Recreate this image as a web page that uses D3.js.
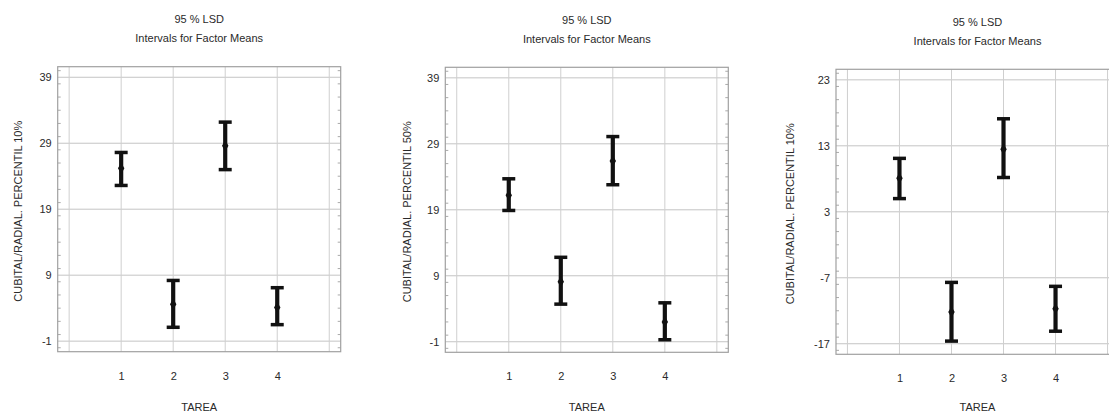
<!DOCTYPE html>
<html>
<head>
<meta charset="utf-8">
<script src="https://cdn.jsdelivr.net/npm/d3@7/dist/d3.min.js"></script>
<style>
  html, body { margin: 0; padding: 0; background: #fff; }
  svg { display: block; }
  text { font-family: "Liberation Sans", Arial, sans-serif; fill: #2a2a2a; }
</style>
</head>
<body>
<svg id="chart" width="1109" height="414"></svg>
<script>
// ---------- data ----------
const categories = ["1", "2", "3", "4"];
const titleLine1 = "95 % LSD";
const titleLine2 = "Intervals for Factor Means";
const xAxisTitle = "TAREA";
const yAxisTitles = [
  "CUBITAL/RADIAL. PERCENTIL 10%",
  "CUBITAL/RADIAL. PERCENTIL 50%",
  "CUBITAL/RADIAL. PERCENTIL 10%"
];

const yTicks1 = [-1, 9, 19, 29, 39];
const means1 = [25.2, 4.6, 28.6, 4.1];
const lower1 = [22.6, 1.1, 25.0, 1.5];
const upper1 = [27.6, 8.2, 32.2, 7.1];

const yTicks2 = [-1, 9, 19, 29, 39];
const means2 = [21.2, 8.1, 26.4, 2.0];
const lower2 = [18.9, 4.7, 22.8, -0.7];
const upper2 = [23.7, 11.8, 30.1, 4.9];

const yTicks3 = [-17, -7, 3, 13, 23];
const means3 = [8.1, -12.2, 12.5, -11.7];
const lower3 = [5.0, -16.6, 8.2, -15.1];
const upper3 = [11.1, -7.7, 17.1, -8.3];

const panelsData = [
  { yTitle: yAxisTitles[0], ticks: yTicks1, means: means1, lower: lower1, upper: upper1 },
  { yTitle: yAxisTitles[1], ticks: yTicks2, means: means2, lower: lower2, upper: upper2 },
  { yTitle: yAxisTitles[2], ticks: yTicks3, means: means3, lower: lower3, upper: upper3 }
];

// ---------- layout ----------
const layout = [
  { left: 57.7, top: 66.7, yLabelOff: 39.5 },
  { left: 445.3, top: 67.3, yLabelOff: 38.6 },
  { left: 836, top: 69.3, yLabelOff: 46 }
];
const boxW = 283, boxH = 285;
const FONT = "'Liberation Sans', Arial, sans-serif";

const svg = d3.select("#chart");

panelsData.forEach((p, i) => {
  const L = layout[i];
  const g = svg.append("g").attr("transform", `translate(${L.left},${L.top})`);

  const tMin = d3.min(p.ticks), tMax = d3.max(p.ticks);
  const pad = (tMax - tMin) * 0.04;
  const y = d3.scaleLinear().domain([tMin - pad, tMax + pad]).range([boxH, 0]);
  const x = d3.scaleLinear().domain([-0.22, 5.22]).range([0, boxW]);

  // gridlines: horizontal at ticks
  g.append("g").selectAll("line").data(p.ticks).join("line")
    .attr("x1", 0).attr("x2", boxW)
    .attr("y1", d => y(d)).attr("y2", d => y(d))
    .attr("stroke", "#c4c4c4").attr("stroke-width", 1);
  // vertical grid at 0..5
  g.append("g").selectAll("line").data(d3.range(0, 6)).join("line")
    .attr("x1", d => x(d)).attr("x2", d => x(d))
    .attr("y1", 0).attr("y2", boxH)
    .attr("stroke", "#cfcfcf").attr("stroke-width", 1);

  // minor ticks on left/right edges
  const minor = d3.range(Math.ceil(tMin - pad), tMax + pad, 2);
  g.append("g").selectAll("line").data(minor).join("line")
    .attr("x1", 0).attr("x2", 3)
    .attr("y1", d => y(d)).attr("y2", d => y(d))
    .attr("stroke", "#aaa");
  g.append("g").selectAll("line").data(minor).join("line")
    .attr("x1", boxW - 3).attr("x2", boxW)
    .attr("y1", d => y(d)).attr("y2", d => y(d))
    .attr("stroke", "#aaa");

  // box
  g.append("rect").attr("x", 0).attr("y", 0).attr("width", boxW).attr("height", boxH)
    .attr("fill", "none").attr("stroke", "#a0a0a0").attr("stroke-width", 1.2);

  // y axis tick labels
  const yAxis = d3.axisLeft(y).tickValues(p.ticks).tickFormat(d => String(d))
    .tickSize(0).tickPadding(6);
  const ya = g.append("g").call(yAxis);
  ya.select(".domain").remove();
  ya.selectAll("text").style("font-size", "11px").attr("fill", "#2a2a2a")
    .style("font-family", FONT);

  // x axis tick labels
  const xAxis = d3.axisBottom(x).tickValues([1, 2, 3, 4])
    .tickFormat((d, k) => categories[k]).tickSize(0).tickPadding(0);
  const xa = g.append("g").attr("transform", `translate(0,${boxH + 20})`).call(xAxis);
  xa.select(".domain").remove();
  xa.selectAll("text").style("font-size", "11px").attr("fill", "#2a2a2a")
    .style("font-family", FONT);

  // titles
  g.append("text").attr("x", boxW / 2).attr("y", -47.5).attr("dy", "0.35em")
    .attr("text-anchor", "middle").style("font-size", "11px").text(titleLine1);
  g.append("text").attr("x", boxW / 2).attr("y", -28.3).attr("dy", "0.35em")
    .attr("text-anchor", "middle").style("font-size", "11px").text(titleLine2);

  // x axis title
  g.append("text").attr("x", boxW / 2).attr("y", 407 - L.top).attr("dy", "0.35em")
    .attr("text-anchor", "middle").style("font-size", "11px").text(xAxisTitle);

  // y axis title
  g.append("text")
    .attr("transform", `translate(${-L.yLabelOff},${boxH / 2 + 2}) rotate(-90)`)
    .attr("dy", "0.35em").attr("text-anchor", "middle")
    .style("font-size", "11px").text(p.yTitle);

  // error bars
  const bars = g.append("g").selectAll("g").data(categories).join("g");
  bars.append("line")
    .attr("x1", (d, k) => x(k + 1)).attr("x2", (d, k) => x(k + 1))
    .attr("y1", (d, k) => y(p.upper[k])).attr("y2", (d, k) => y(p.lower[k]))
    .attr("stroke", "#111").attr("stroke-width", 4.2);
  bars.append("line")
    .attr("x1", (d, k) => x(k + 1) - 6.5).attr("x2", (d, k) => x(k + 1) + 6.5)
    .attr("y1", (d, k) => y(p.upper[k])).attr("y2", (d, k) => y(p.upper[k]))
    .attr("stroke", "#111").attr("stroke-width", 3.5);
  bars.append("line")
    .attr("x1", (d, k) => x(k + 1) - 6.5).attr("x2", (d, k) => x(k + 1) + 6.5)
    .attr("y1", (d, k) => y(p.lower[k])).attr("y2", (d, k) => y(p.lower[k]))
    .attr("stroke", "#111").attr("stroke-width", 3.5);
  bars.append("path")
    .attr("transform", (d, k) => `translate(${x(k + 1)},${y(p.means[k])})`)
    .attr("d", d3.symbol(d3.symbolDiamond, 36)())
    .attr("fill", "#111");
});
</script>
</body>
</html>
